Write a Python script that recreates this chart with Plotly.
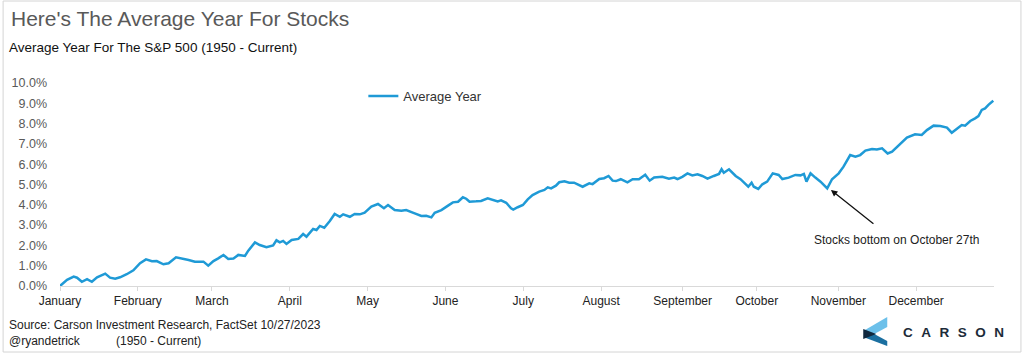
import plotly.graph_objects as go

# ---- data (trading day of year, average cumulative return %) ----
days = [0, 1.9, 3.7, 4.6, 5.9, 7.3, 8.6, 10.0, 12.2, 13.5, 14.9, 16.2, 18.0, 19.8, 21.6, 23.2, 24.8, 26.1,
        27.9, 29.3, 31.3, 32.8, 34.7, 36.4, 38.7, 40.0, 41.4, 42.7, 44.1, 45.4, 46.8, 48.1,
        49.9, 50.8, 52.6, 53.9, 55.7, 57.5, 58.4, 59.3, 60.2, 61.1, 62.5, 64.3, 65.6, 66.5, 68.3, 69.2,
        70.1, 71.3, 72.8, 74.1, 75.5, 76.4, 78.2, 79.5, 80.9, 82.2, 84.0, 85.8, 87.4, 88.5, 90.3, 92.1,
        93.4, 95.7, 97.5, 98.8, 100.2,
        101.1, 102.9, 104.7, 106.0, 107.4, 108.7, 109.6, 110.5, 112.3, 113.6, 115.4, 116.8, 118.1, 119.0,
        120.4, 121.7, 122.3, 123.5, 124.9, 126.2, 127.5, 129.3, 130.7, 131.6, 132.5, 133.8, 134.7, 136.1,
        137.4, 138.7, 141.0, 142.8, 143.7, 145.5, 146.8, 148.0, 149.1,
        150.0, 151.3, 153.1, 154.5, 156.2, 157.9, 159.1, 160.3, 162.5, 164.3, 165.7, 166.6, 167.9, 169.3,
        170.6, 172.0, 173.3, 174.7, 176.4, 177.8, 178.5, 179.1, 180.5, 181.4, 182.3, 183.6, 184.5, 185.7,
        186.6, 187.2, 188.4, 189.5, 190.8, 192.3, 193.9, 194.9, 196.6, 198.4, 199.8,
        200.7, 201.4, 202.5, 203.8, 205.2, 207.0, 208.3, 210.1, 211.4, 213.2, 214.6, 215.9, 217.3, 219.1,
        220.4, 221.8, 223.3, 224.5, 226.3, 228.5, 230.7, 232.5, 233.9, 235.7, 237.5, 239.3, 240.6, 242.0,
        243.3, 244.2, 245.6, 246.9, 247.8, 248.7, 249.6, 250.5, 251.8]
avg_year = [0.00, 0.30, 0.46, 0.41, 0.21, 0.34, 0.21, 0.43, 0.61, 0.41, 0.36, 0.43, 0.58, 0.77, 1.12, 1.31, 1.22, 1.23,
            1.07, 1.12, 1.41, 1.36, 1.28, 1.20, 1.20, 1.00, 1.23, 1.36, 1.53, 1.33, 1.35, 1.53,
            1.48, 1.74, 2.15, 2.02, 1.91, 2.00, 2.25, 2.15, 2.22, 2.07, 2.27, 2.32, 2.56, 2.43, 2.81, 2.76,
            2.96, 2.87, 3.20, 3.55, 3.41, 3.53, 3.41, 3.55, 3.53, 3.61, 3.91, 4.04, 3.83, 3.99, 3.74, 3.71,
            3.74, 3.58, 3.45, 3.46, 3.38,
            3.61, 3.74, 3.96, 4.12, 4.15, 4.37, 4.30, 4.15, 4.17, 4.19, 4.32, 4.24, 4.17, 4.22,
            4.10, 3.83, 3.76, 3.88, 3.99, 4.27, 4.48, 4.65, 4.73, 4.86, 4.81, 4.94, 5.11, 5.16,
            5.09, 5.09, 4.89, 5.06, 5.02, 5.27, 5.31, 5.42, 5.19,
            5.17, 5.26, 5.11, 5.26, 5.26, 5.48, 5.19, 5.35, 5.38, 5.29, 5.34, 5.27, 5.38, 5.55,
            5.45, 5.50, 5.42, 5.29, 5.42, 5.52, 5.75, 5.58, 5.75, 5.60, 5.42, 5.26, 5.12, 4.89,
            5.09, 4.89, 4.78, 5.01, 5.14, 5.55, 5.47, 5.27, 5.34, 5.47, 5.45,
            5.52, 5.14, 5.55, 5.34, 5.14, 4.81, 5.26, 5.55, 5.88, 6.45, 6.37, 6.45, 6.67, 6.75,
            6.72, 6.78, 6.53, 6.62, 6.95, 7.31, 7.47, 7.44, 7.68, 7.90, 7.88, 7.80, 7.55, 7.77,
            7.93, 7.90, 8.13, 8.26, 8.37, 8.67, 8.75, 8.92, 9.13]

month_starts = [0, 21, 41, 62, 83, 104, 125, 146, 168, 188, 210, 231]
month_labels = ["January", "February", "March", "April", "May", "June", "July",
                "August", "September", "October", "November", "December"]
year_end_day = 252
y_ticks = [0, 1, 2, 3, 4, 5, 6, 7, 8, 9, 10]
bottom_day, bottom_value = 208.0, 4.73

# ---- layout helpers ----
W, H = 1024, 354
L, R, T, B = 58, 30, 83, 68
PW, PH = W - L - R, H - T - B


def px(x):
    return (x - L) / PW


def py(y):
    return (H - B - y) / PH


FONT = "Arial, Liberation Sans, sans-serif"
BLUE = "#1f9ad6"

fig = go.Figure()
fig.add_trace(go.Scatter(x=days, y=avg_year, mode="lines", name="Average Year",
                         line=dict(color=BLUE, width=2.5)))

annotations = [
    dict(x=px(7), y=py(19), xref="paper", yref="paper", xanchor="left", yanchor="middle",
         text="Here's The Average Year For Stocks", showarrow=False,
         font=dict(size=21, color="#595959", family=FONT)),
    dict(x=px(5), y=py(47), xref="paper", yref="paper", xanchor="left", yanchor="middle",
         text="Average Year For The S&P 500 (1950 - Current)", showarrow=False,
         font=dict(size=13.5, color="#111111", family=FONT)),
    dict(x=px(5), y=py(325), xref="paper", yref="paper", xanchor="left", yanchor="middle",
         text="Source: Carson Investment Research, FactSet 10/27/2023", showarrow=False,
         font=dict(size=12, color="#222222", family=FONT)),
    dict(x=px(5), y=py(341), xref="paper", yref="paper", xanchor="left", yanchor="middle",
         text="@ryandetrick", showarrow=False,
         font=dict(size=12, color="#222222", family=FONT)),
    dict(x=px(112), y=py(341), xref="paper", yref="paper", xanchor="left", yanchor="middle",
         text="(1950 - Current)", showarrow=False,
         font=dict(size=12, color="#222222", family=FONT)),
    dict(x=px(901), y=py(332), xref="paper", yref="paper", xanchor="left", yanchor="middle",
         text='<b><span style="letter-spacing:8.5px">CARSON</span></b>', showarrow=False,
         font=dict(size=13.5, color="#1c2b39", family=FONT)),
    # arrow to the bottom
    dict(x=bottom_day, y=bottom_value, xref="x", yref="y", text="", showarrow=True,
         ax=44, ay=35, arrowhead=2, arrowsize=1, arrowwidth=1.3, arrowcolor="#111111", standoff=0),
    dict(x=px(896), y=py(240), xref="paper", yref="paper", xanchor="center", yanchor="middle",
         text="Stocks bottom on October 27th", showarrow=False,
         font=dict(size=12, color="#222222", family=FONT)),
]


def path(points):
    return "M " + " L ".join(f"{px(a):.5f},{py(b):.5f}" for a, b in points) + " Z"


shapes = [
    dict(type="rect", xref="paper", yref="paper", x0=px(1), x1=px(1021), y0=py(352), y1=py(1),
         line=dict(color="#d4d4d4", width=1), fillcolor="rgba(0,0,0,0)", layer="below"),
    dict(type="path", xref="paper", yref="paper", path=path([(863, 331), (887, 317), (887, 327), (874, 334)]),
         fillcolor="#6cc0ea", line=dict(width=0)),
    dict(type="path", xref="paper", yref="paper", path=path([(863, 337), (874, 334), (887, 341), (887, 346)]),
         fillcolor="#1b6fa0", line=dict(width=0)),
    dict(type="path", xref="paper", yref="paper", path=path([(863, 329), (876, 334), (863, 339)]),
         fillcolor="#10283e", line=dict(width=0)),
]

fig.update_layout(
    width=W, height=H,
    margin=dict(l=L, r=R, t=T, b=B),
    paper_bgcolor="white", plot_bgcolor="white",
    font=dict(family=FONT, color="#333333"),
    showlegend=True,
    legend=dict(x=px(362), y=py(96), xanchor="left", yanchor="middle",
                bgcolor="rgba(0,0,0,0)", font=dict(size=13, color="#333333", family=FONT)),
    xaxis=dict(range=[0, year_end_day], tickmode="array", tickvals=month_starts, ticktext=month_labels,
               showgrid=False, zeroline=False, showline=True, linecolor="#d9d9d9", linewidth=1,
               ticks="outside", ticklen=4, tickcolor="#d9d9d9",
               tickfont=dict(size=12, color="#222222", family=FONT)),
    yaxis=dict(range=[0, 10], tickmode="array", tickvals=y_ticks,
               ticktext=[f"{v:.1f}%" for v in y_ticks],
               showgrid=False, zeroline=False, showline=False, ticks="",
               ticklabelstandoff=12,
               tickfont=dict(size=12.5, color="#595959", family=FONT)),
    annotations=annotations,
    shapes=shapes,
)

fig.write_html("out.html")
